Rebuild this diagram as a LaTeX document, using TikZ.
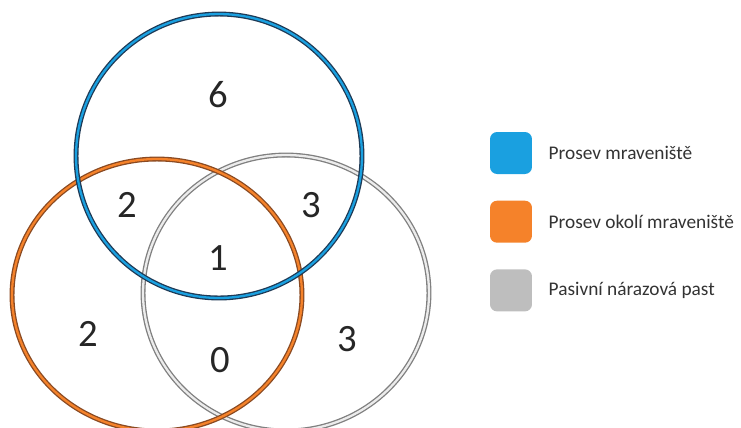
\documentclass[tikz,border=0pt]{standalone}
\usepackage{fontspec}
\setmainfont{Carlito}
\usetikzlibrary{positioning}
\definecolor{setblue}{HTML}{1AA0E0}
\definecolor{setorange}{HTML}{F5822A}
\definecolor{setgray}{HTML}{BEBEBE}
\definecolor{bluerim}{HTML}{1E3A56}
\definecolor{orangerim}{HTML}{8A4A22}
\definecolor{grayrim}{HTML}{808080}
\tikzset{x=0.02cm, y=-0.02cm, font=\fontsize{11}{11}\selectfont}
\tikzstyle{count} = [font=\fontsize{22}{22}\selectfont, text=black!85, inner sep=0pt]
\tikzstyle{swatch} = [rounded corners=4pt, minimum width=0.84cm, minimum height=0.84cm, inner sep=0pt]
\tikzstyle{caption} = [text=black!80, anchor=west, inner sep=0pt]
\tikzstyle{rim} = [line width=2.8pt]
\tikzstyle{core} = [line width=1.3pt]

\begin{document}
\begin{tikzpicture}
		\useasboundingbox (0,0) rectangle (741,427);
		\coordinate (c_blue) at (219,156);
		\coordinate (c_orange) at (157,295);
		\coordinate (c_gray) at (286,293);

		% rings
		\draw [rim, grayrim] (c_gray) ellipse [x radius=2.86cm, y radius=2.76cm];
		\draw [core, white!85!gray] (c_gray) ellipse [x radius=2.86cm, y radius=2.76cm];
		\draw [rim, orangerim] (c_orange) ellipse [x radius=2.9cm, y radius=2.72cm];
		\draw [core, setorange] (c_orange) ellipse [x radius=2.9cm, y radius=2.72cm];
		\draw [rim, bluerim] (c_blue) ellipse [x radius=2.86cm, y radius=2.84cm];
		\draw [core, setblue] (c_blue) ellipse [x radius=2.86cm, y radius=2.84cm];

		% counts
		\node [count] (n_b) at (218,95) {6};
		\node [count] (n_bo) at (127,205) {2};
		\node [count] (n_bg) at (311,205) {3};
		\node [count] (n_bog) at (218,258) {1};
		\node [count] (n_o) at (88,334) {2};
		\node [count] (n_og) at (220,360) {0};
		\node [count] (n_g) at (347,339) {3};

		% legend
		\node [swatch, fill=setblue] (key_blue) at (511,153) {};
		\node [swatch, fill=setorange, below=0.52cm of key_blue] (key_orange) {};
		\node [swatch, fill=setgray, below=0.52cm of key_orange] (key_gray) {};
		\node [caption, right=0.32cm of key_blue] (lab_blue) {Prosev mraveniště};
		\node [caption, right=0.32cm of key_orange] (lab_orange) {Prosev okolí mraveniště};
		\node [caption, right=0.32cm of key_gray] (lab_gray) {Pasivní nárazová past};
	\end{tikzpicture}
\end{document}
